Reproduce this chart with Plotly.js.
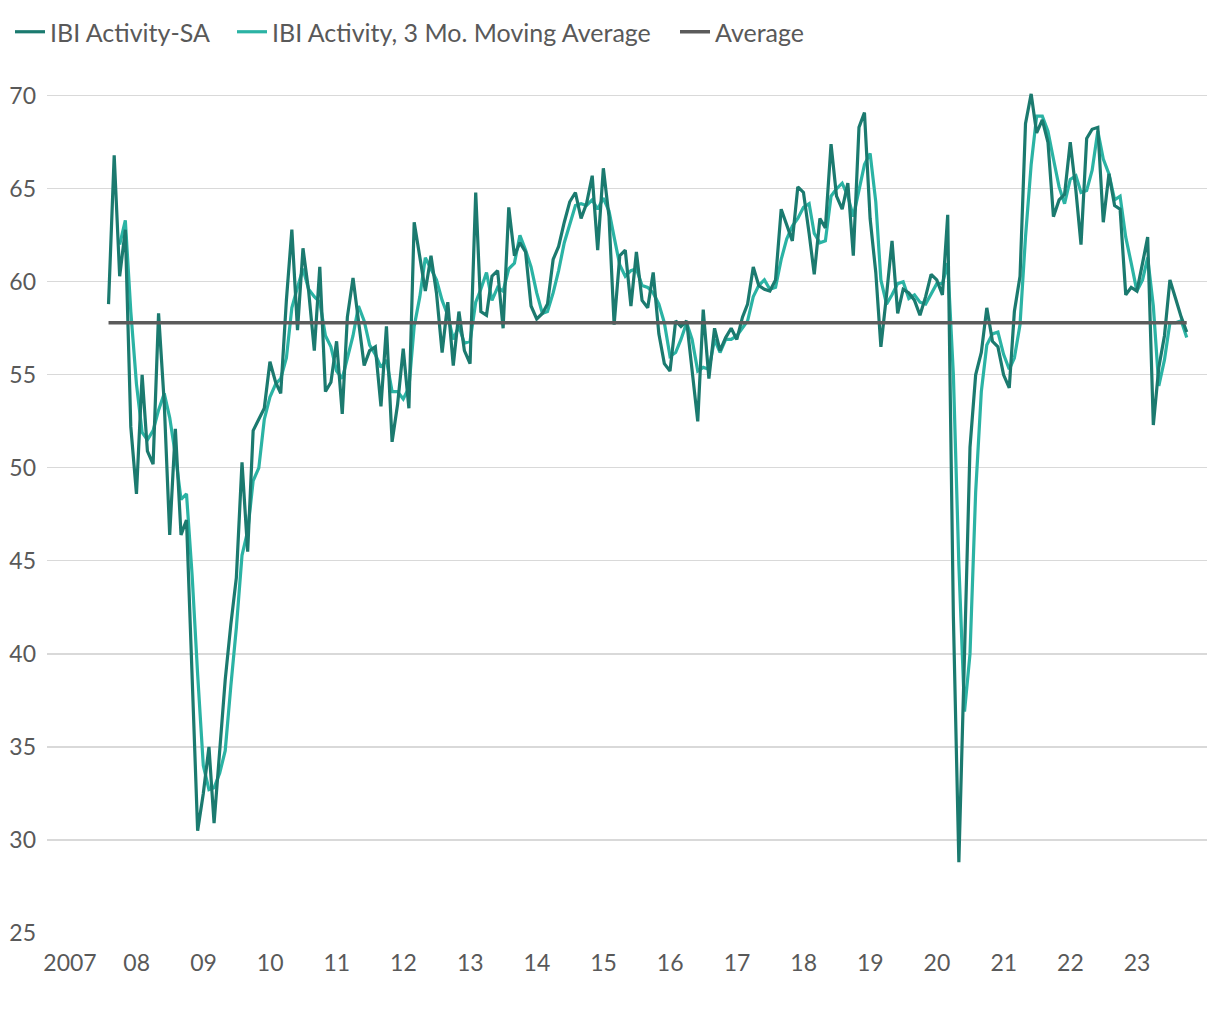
<!DOCTYPE html>
<html>
<head>
<meta charset="utf-8">
<script src="https://cdn.plot.ly/plotly-3.0.1.min.js"></script>
<style>
  html, body { margin: 0; padding: 0; background: #ffffff; }
  #chart { width: 1220px; height: 1020px; }
</style>
</head>
<body>
<div id="chart"></div>
<script>
// Monthly series, July 2007 - September 2023
const startYear = 2007;
const startMonth = 7; // July

const ibiActivitySA = [
  58.8, 66.8, 60.3, 62.8, 52.2, 48.6,
  55.0, 50.9, 50.2, 58.3, 53.5, 46.4, 52.1, 46.4, 47.2, 39.0, 30.5, 32.5,
  35.0, 30.9, 34.8, 38.6, 41.6, 44.1, 50.3, 45.5, 52.0, 52.6, 53.2, 55.7,
  54.6, 54.0, 59.0, 62.8, 57.4, 61.8, 59.5, 56.3, 60.8, 54.1, 54.6, 56.8,
  52.9, 58.1, 60.2, 57.9, 55.5, 56.3, 56.5, 53.3, 57.6, 51.4, 53.4, 56.4,
  53.2, 63.2, 61.3, 59.5, 61.4, 59.4, 56.2, 58.9, 55.5, 58.4, 56.3, 55.6,
  64.8, 58.4, 58.2, 60.3, 60.6, 57.5, 64.0, 61.4, 62.1, 61.6, 58.7, 58.0,
  58.3, 58.8, 61.2, 61.9, 63.2, 64.3, 64.8, 63.4, 64.2, 65.7, 61.7, 66.1,
  63.5, 57.7, 61.4, 61.7, 58.7, 61.6, 59.0, 58.6, 60.5, 57.2, 55.6, 55.2,
  57.9, 57.6, 57.9, 55.3, 52.5, 58.5, 54.8, 57.5, 56.3, 57.0, 57.5, 56.9,
  58.1, 58.8, 60.8, 59.8, 59.6, 59.5, 60.1, 63.9, 63.0, 62.2, 65.1, 64.8,
  62.6, 60.4, 63.4, 62.9, 67.4, 64.6, 63.9, 65.3, 61.4, 68.3, 69.1, 63.4,
  60.5, 56.5, 59.3, 62.2, 58.3, 59.6, 59.4, 59.0, 58.2, 59.2, 60.4, 60.1,
  59.3, 63.6, 42.0, 28.8, 40.0, 51.1, 55.0, 56.2, 58.6, 56.8, 56.5, 55.0,
  54.3, 58.4, 60.3, 68.5, 70.1, 68.0, 68.7, 67.5, 63.5, 64.4, 64.7, 67.5,
  64.9, 62.0, 67.7, 68.2, 68.3, 63.2, 65.8, 64.1, 63.9, 59.3, 59.7, 59.5,
  61.0, 62.4, 52.3, 55.4, 57.1, 60.1, 59.1, 58.1, 57.3
];

const ibiMovingAverage = [
  null, null,
  62.0, 63.3, 58.4, 54.5, 51.9, 51.5, 52.0, 53.1, 54.0, 52.7,
  50.7, 48.3, 48.6, 44.2, 38.9, 34.0, 32.7, 32.8, 33.6, 34.8,
  38.3, 41.4, 45.3, 46.6, 49.3, 50.0, 52.6, 53.8, 54.5, 54.8,
  55.9, 58.6, 59.7, 60.7, 59.6, 59.2, 58.9, 57.1, 56.5, 55.2,
  54.8, 55.9, 57.1, 58.7, 57.9, 56.6, 56.1, 55.4, 55.8, 54.1,
  54.1, 53.7, 54.3, 57.6, 59.2, 61.3, 60.7, 60.1, 59.0, 58.2,
  56.9, 57.6, 56.7, 56.8, 58.9, 59.6, 60.5, 59.0, 59.7, 59.5,
  60.7, 61.0, 62.5, 61.7, 60.8, 59.4, 58.3, 58.4, 59.4, 60.6,
  62.1, 63.1, 64.1, 64.2, 64.1, 64.4, 63.9, 64.5, 63.8, 62.4,
  60.9, 60.3, 60.6, 60.7, 59.8, 59.7, 59.4, 58.8, 57.8, 56.0,
  56.2, 56.9, 57.8, 56.9, 55.2, 55.4, 55.3, 56.9, 56.2, 56.9,
  56.9, 57.1, 57.5, 57.9, 59.2, 59.8, 60.1, 59.6, 59.7, 61.2,
  62.3, 63.0, 63.4, 64.0, 64.2, 62.6, 62.1, 62.2, 64.6, 65.0,
  65.3, 64.6, 63.5, 65.0, 66.3, 66.9, 64.3, 60.1, 58.8, 59.3,
  59.9, 60.0, 59.1, 59.3, 58.9, 58.8, 59.3, 59.9, 59.9, 61.0,
  55.0, 44.8, 36.9, 40.0, 48.7, 54.1, 56.6, 57.2, 57.3, 56.1,
  55.3, 55.9, 57.7, 62.4, 66.3, 68.9, 68.9, 68.1, 66.6, 65.1,
  64.2, 65.5, 65.7, 64.8, 64.9, 66.0, 68.1, 66.6, 65.8, 64.4,
  64.6, 62.4, 61.0, 59.5, 60.1, 61.3, 58.7, 54.4, 55.8, 57.8,
  57.8, 57.9, 57.0
];

const averageValue = 57.8;

const yearTickLabels = ['2007','08','09','10','11','12','13','14','15','16','17','18','19','20','21','22','23'];

// month-end dates for each observation
function monthEnd(k) {
  const m0 = startMonth - 1 + k;
  const y = startYear + Math.floor(m0 / 12);
  const m = m0 % 12;
  const d = new Date(Date.UTC(y, m + 1, 0));
  return d.toISOString().slice(0, 10);
}
const dates = ibiActivitySA.map((_, k) => monthEnd(k));
const tickVals = yearTickLabels.map((_, k) => (startYear + k) + '-01-01');

const colSA = '#1b7a6f';
const colMA = '#2bb3a4';
const colAvg = '#5b5b5b';
const fontFam = '"Source Sans Pro", "Lato", "Noto Sans", sans-serif';
const textCol = '#595959';

const traces = [
  {
    x: dates, y: ibiMovingAverage, type: 'scatter', mode: 'lines',
    name: 'IBI Activity, 3 Mo. Moving Average', legend: 'legend2',
    line: { color: colMA, width: 3.2 }, connectgaps: false
  },
  {
    x: dates, y: ibiActivitySA, type: 'scatter', mode: 'lines',
    name: 'IBI Activity-SA', legend: 'legend',
    line: { color: colSA, width: 3.2 }
  },
  {
    x: [dates[0], dates[dates.length - 1]], y: [averageValue, averageValue],
    type: 'scatter', mode: 'lines', name: 'Average', legend: 'legend3',
    line: { color: colAvg, width: 3.5 }
  }
];

function legendAt(px) {
  return {
    orientation: 'h', xref: 'container', yref: 'container',
    x: px / 1220, y: 1 - 32 / 1020, xanchor: 'left', yanchor: 'middle',
    font: { family: fontFam, size: 25, color: textCol },
    itemwidth: 30, bgcolor: 'rgba(0,0,0,0)', borderwidth: 0
  };
}

const layout = {
  width: 1220, height: 1020,
  paper_bgcolor: '#ffffff', plot_bgcolor: '#ffffff',
  margin: { l: 47, r: 13, t: 92, b: 87 },
  font: { family: fontFam, color: textCol, size: 23 },
  showlegend: true,
  legend: legendAt(10),
  legend2: legendAt(232),
  legend3: legendAt(675),
  xaxis: {
    type: 'date',
    range: ['2006-08-28', '2024-01-19'],
    tickmode: 'array', tickvals: tickVals, ticktext: yearTickLabels,
    showgrid: false, zeroline: false, showline: false, ticks: '',
    ticklabelstandoff: 14,
    tickfont: { family: fontFam, size: 23, color: textCol }
  },
  yaxis: {
    range: [25, 70.2],
    tickmode: 'array', tickvals: [25,30,35,40,45,50,55,60,65,70],
    showgrid: true, gridcolor: '#d9d9d9', gridwidth: 1.2,
    zeroline: false, showline: false, ticks: '',
    ticklabelstandoff: 10,
    tickfont: { family: fontFam, size: 23, color: textCol }
  }
};

Plotly.newPlot('chart', traces, layout, { displayModeBar: false, staticPlot: true });
</script>
</body>
</html>
